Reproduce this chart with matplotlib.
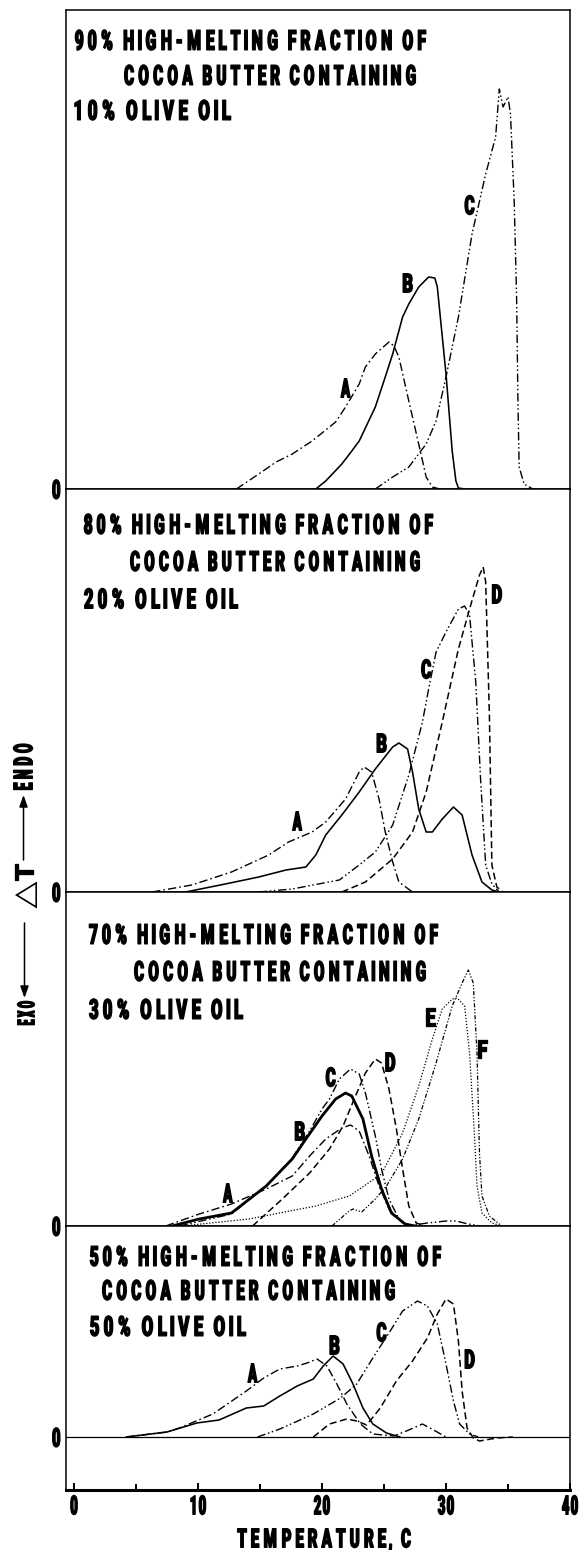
import numpy as np
import matplotlib
matplotlib.use('Agg')
import matplotlib.pyplot as plt
from matplotlib import font_manager
from matplotlib.font_manager import FontProperties
from matplotlib.textpath import TextPath, text_to_path
from matplotlib.patheffects import AbstractPathEffect
from matplotlib.transforms import Affine2D
from matplotlib.patches import FancyArrowPatch
from matplotlib.path import Path

# ------------------------------------------------------------------ data
temp_major = [0, 10, 20, 30, 40]
temp_minor = [5, 15, 25, 35]
temp_labels = ["0", "10", "20", "30", "40"]

title_90 = ["90% HIGH-MELTING FRACTION OF", "COCOA BUTTER CONTAINING", "10% OLIVE OIL"]
title_80 = ["80% HIGH-MELTING FRACTION OF", "COCOA BUTTER CONTAINING", "20% OLIVE OIL"]
title_70 = ["70% HIGH-MELTING FRACTION OF", "COCOA BUTTER CONTAINING", "30% OLIVE OIL"]
title_50 = ["50% HIGH-MELTING FRACTION OF", "COCOA BUTTER CONTAINING", "50% OLIVE OIL"]

# panel 1 : 90 % HMF / 10 % olive oil  (temperature C, delta T arbitrary units)
p1_A_t = [13.1, 14.9, 16.3, 17.6, 19.2, 21.1, 21.9, 23.0, 23.5, 24.3, 25.4, 25.8, 26.2, 27.0, 27.8, 28.4, 28.9, 29.5]
p1_A_h = [0, 15, 27, 35, 48, 67, 82, 105, 122, 135, 147, 143, 132, 88, 45, 12, 2, 0]
p1_B_t = [19.5, 20.3, 21.6, 22.4, 23.0, 24.3, 25.1, 25.7, 26.5, 27.0, 27.8, 28.6, 29.1, 29.3, 30.0, 30.5, 30.8, 31.0, 31.5]
p1_B_h = [0, 8, 25, 38, 48, 82, 112, 135, 172, 185, 202, 212, 211, 202, 115, 38, 8, 1, 0]
p1_C_t = [24.3, 25.7, 27.0, 28.4, 29.2, 30.0, 31.0, 32.1, 33.2, 34.0, 34.3, 34.6, 35.0, 35.2, 35.5, 35.7, 35.8, 35.9, 36.3, 37.0]
p1_C_h = [0, 12, 22, 45, 68, 112, 172, 255, 315, 352, 400, 382, 392, 375, 288, 188, 88, 22, 5, 0]

# panel 2 : 80 % HMF / 20 % olive oil
p2_A_t = [6.3, 9.5, 12.7, 15.7, 17.3, 19.2, 20.3, 21.9, 23.0, 23.4, 24.0, 24.6, 25.1, 25.7, 26.2, 27.3]
p2_A_h = [0, 7, 20, 37, 50, 60, 70, 93, 120, 125, 120, 93, 60, 30, 10, 0]
p2_B_t = [9.0, 12.2, 14.9, 17.1, 18.7, 19.5, 20.3, 21.6, 23.0, 24.3, 25.7, 26.2, 26.9, 27.3, 27.8, 28.4, 28.9, 29.7, 30.6, 31.3, 32.1, 32.9, 33.7, 34.3]
p2_B_h = [0, 8, 15, 22, 25, 37, 57, 77, 100, 123, 145, 149, 143, 120, 83, 60, 60, 73, 85, 77, 37, 10, 2, 0]
p2_C_t = [14.9, 17.6, 21.4, 23.0, 24.3, 25.7, 27.0, 28.1, 28.6, 29.2, 30.0, 31.0, 31.5, 31.9, 32.4, 32.8, 33.2, 33.7, 34.3]
p2_C_h = [0, 3, 12, 27, 40, 67, 117, 170, 203, 240, 260, 283, 286, 277, 210, 110, 27, 8, 0]
p2_D_t = [21.6, 23.5, 25.7, 27.3, 28.4, 29.7, 31.0, 31.9, 32.7, 33.0, 33.2, 33.5, 33.7, 34.1, 34.6]
p2_D_h = [0, 10, 33, 60, 100, 170, 243, 283, 317, 325, 310, 177, 27, 5, 0]

# panel 3 : 70 % HMF / 30 % olive oil
p3_A_t = [7.4, 10.1, 12.7, 15.5, 17.6, 19.0, 20.3, 21.6, 22.3, 23.0, 23.8, 24.6, 25.4, 26.5, 27.2]
p3_A_h = [0, 12, 22, 37, 50, 70, 87, 98, 101, 95, 70, 40, 17, 3, 0]
p3_B_t = [7.9, 10.1, 12.7, 15.5, 17.6, 18.7, 20.0, 21.1, 21.9, 22.4, 23.3, 24.0, 24.8, 25.6, 26.7, 27.5]
p3_B_h = [0, 7, 13, 40, 67, 87, 110, 127, 133, 130, 107, 70, 37, 13, 2, 0]
p3_C_t = [8.5, 12.7, 15.5, 17.6, 19.0, 20.0, 20.6, 21.4, 22.3, 23.0, 23.5, 24.3, 24.8, 25.4, 26.2, 26.9, 28.5, 30.0, 30.8, 31.8, 32.8]
p3_C_h = [0, 12, 40, 68, 95, 117, 127, 147, 157, 152, 133, 90, 57, 27, 7, 0, 3, 5, 5, 2, 0]
p3_D_t = [14.4, 16.8, 19.0, 20.6, 21.7, 22.7, 23.5, 24.3, 24.8, 25.4, 26.0, 26.5, 27.0, 27.6, 28.3]
p3_D_h = [0, 27, 53, 77, 100, 130, 153, 167, 163, 137, 97, 57, 20, 3, 0]
p3_E_t = [8.7, 14.1, 19.5, 22.2, 24.8, 26.5, 27.8, 28.9, 29.7, 30.5, 30.9, 31.5, 31.9, 32.3, 32.5, 32.9, 33.7, 34.5]
p3_E_h = [0, 7, 20, 30, 52, 93, 140, 187, 217, 227, 228, 220, 173, 90, 40, 13, 3, 0]
p3_F_t = [20.8, 22.2, 22.5, 23.2, 24.3, 25.2, 26.5, 27.8, 29.2, 30.5, 31.3, 31.8, 32.2, 32.5, 32.7, 32.9, 33.5, 34.5]
p3_F_h = [0, 15, 17, 14, 27, 40, 67, 107, 163, 220, 243, 256, 243, 173, 73, 30, 10, 0]

# panel 4 : 50 % HMF / 50 % olive oil
p4_A_t = [4.2, 7.5, 8.5, 11.2, 13.9, 15.3, 16.6, 18.0, 18.8, 19.6, 20.4, 21.2, 22.0, 23.1, 24.1, 25.8, 27.0, 28.1, 29.0, 30.0]
p4_A_h = [0, 5, 9, 23, 46, 59, 68, 71, 74, 78, 71, 53, 33, 13, 3, 1, 7, 13, 7, 0]
p4_B_t = [4.2, 7.5, 9.9, 11.7, 13.9, 15.3, 16.6, 18.0, 19.3, 20.1, 20.9, 21.7, 22.5, 23.3, 24.1, 25.2, 26.3]
p4_B_h = [0, 5, 14, 17, 29, 31, 41, 51, 58, 71, 81, 73, 53, 29, 13, 4, 0]
p4_C_t = [14.8, 16.6, 19.3, 21.5, 22.8, 24.1, 25.5, 26.5, 27.7, 28.5, 29.3, 30.0, 30.6, 31.1, 31.9, 32.6]
p4_C_h = [0, 8, 23, 39, 53, 79, 106, 126, 136, 131, 113, 73, 36, 13, 3, 0]
p4_D_t = [19.3, 20.6, 22.0, 22.8, 23.6, 24.7, 26.0, 27.3, 28.5, 29.3, 30.0, 30.6, 31.0, 31.3, 31.7, 32.2, 32.7, 34.1, 35.4]
p4_D_h = [0, 13, 18, 16, 12, 29, 56, 76, 99, 123, 138, 133, 96, 46, 9, -1, -4, -1, 0]

# ------------------------------------------------------------------ layout / style
W, H, DPI = 584, 1550, 100
plt.rcParams['lines.scale_dashes'] = False
plt.rcParams['lines.solid_joinstyle'] = 'round'
plt.rcParams['lines.dash_joinstyle'] = 'round'


def pick_font():
    want = ['Roboto Condensed', 'Roboto', 'Lato', 'Noto Sans', 'Open Sans', 'Inter',
            'Liberation Sans', 'DejaVu Sans']
    best = {}
    for f in font_manager.fontManager.ttflist:
        if f.style != 'normal':
            continue
        w = f.weight
        if not isinstance(w, (int, float)):
            w = font_manager.weight_dict.get(str(w).lower(), 400)
        best[f.name] = max(best.get(f.name, 0), w)
    for thr in (850, 750, 700):
        for fam in want:
            if best.get(fam, 0) >= thr:
                return fam, best[fam]
    return 'DejaVu Sans', 700


FONT, WEIGHT = pick_font()
FP = FontProperties(family=FONT, weight=WEIGHT)
FP_THIN = FontProperties(family='DejaVu Sans', weight='normal')
UNITS = text_to_path.FONT_SCALE
STROKE_PT = 0.95


class Condense(AbstractPathEffect):
    """Narrow every glyph about its own centre, stretch it vertically and
    embolden it, imitating a heavy condensed gothic type."""
    def __init__(self, sx, sy, cy, stroke=0.0):
        super().__init__()
        self.sx = sx
        self.sy = sy
        self.cy = cy
        self.stroke = stroke

    def draw_path(self, renderer, gc, tpath, affine, rgbFace=None):
        verts = np.array(tpath.vertices, dtype=float)
        codes = tpath.codes
        if codes is not None and self.sx != 1.0 and len(verts):
            codes = np.asarray(codes)
            starts = np.where(codes == Path.MOVETO)[0]
            if len(starts):
                segs = np.split(np.arange(len(codes)), starts[1:])
                boxes = []
                for s in segs:
                    m = codes[s] != Path.CLOSEPOLY
                    xs = verts[s[m], 0] if m.any() else verts[s, 0]
                    boxes.append((xs.min(), xs.max()))
                order = sorted(range(len(segs)), key=lambda k: boxes[k][0])
                groups, cur, cmax = [], [], -np.inf
                for k in order:
                    if cur and boxes[k][0] < cmax - 0.5:
                        cur.append(k)
                        cmax = max(cmax, boxes[k][1])
                    else:
                        if cur:
                            groups.append(cur)
                        cur, cmax = [k], boxes[k][1]
                if cur:
                    groups.append(cur)
                for g in groups:
                    ind = np.concatenate([segs[k] for k in g])
                    cx = 0.5 * (min(boxes[k][0] for k in g) + max(boxes[k][1] for k in g))
                    verts[ind, 0] = cx + (verts[ind, 0] - cx) * self.sx
            tpath = Path(verts, codes)
        tr = Affine2D().translate(0, -self.cy).scale(1.0, self.sy).translate(0, self.cy) + affine
        if self.stroke > 0 and rgbFace is not None:
            gc0 = renderer.new_gc()
            gc0.copy_properties(gc)
            gc0.set_linewidth(self.stroke)
            gc0.set_foreground(rgbFace)
            gc0.set_joinstyle('round')
            renderer.draw_path(gc0, tpath, tr, rgbFace)
            gc0.restore()
        else:
            renderer.draw_path(gc, tpath, tr, rgbFace)


def fit(s, width_px, cap_px, fp=FP, ref='H', sx=1.0, stroke=STROKE_PT):
    spx = stroke * DPI / 72.0
    width_px = width_px - spx
    cap_px = cap_px - spx
    ext = TextPath((0, 0), s, size=1, prop=fp).get_extents()
    rext = TextPath((0, 0), ref, size=1, prop=fp).get_extents()
    fs = width_px * 72.0 / (DPI * ext.width)
    cap_un = rext.height * fs * DPI / 72.0
    cy = (rext.y0 + rext.height / 2.0) * UNITS
    eff = Condense(sx, cap_px / cap_un, cy, stroke)
    lsb = ext.x0 * fs * DPI / 72.0 - spx / 2.0
    p = fp.copy()
    p.set_size(fs)
    base_off = (rext.y0 * fs * DPI / 72.0) + cap_un / 2.0
    return p, eff, base_off, lsb


fig = plt.figure(figsize=(W / DPI, H / DPI), dpi=DPI)
fig.patch.set_facecolor('white')

SX_TEXT = 0.70


def ftext(s, x_px, yc_px, width_px, cap_px, ha='left', sx=SX_TEXT):
    p, eff, off, lsb = fit(s, width_px, cap_px, sx=sx)
    x = x_px - lsb if ha == 'left' else x_px
    t = fig.text(x / W, 1 - (yc_px + off) / H, s, fontproperties=p, ha=ha, va='baseline', color='black')
    t.set_path_effects([eff])
    return t


def rtext(s, xc_px, yc_px, width_px, cap_px, fp=FP, ref='H', sx=SX_TEXT, stroke=STROKE_PT):
    p, eff, off, lsb = fit(s, width_px, cap_px, fp=fp, ref=ref, sx=sx, stroke=stroke)
    t = fig.text((xc_px + off) / W, 1 - yc_px / H, s, fontproperties=p, rotation=90,
                 rotation_mode='anchor', ha='center', va='baseline', color='black')
    t.set_path_effects([eff])
    return t


X0_PX, PX_PER_C = 74.0, 12.4
LEFT_PX, RIGHT_PX, TOP_PX, BOT_PX = 66.0, 570.0, 10.0, 1490.0
ylims = [(0, 479), (0, 403), (0, 334), (-53, 211)]
heights = [b - a for a, b in ylims]
gs = fig.add_gridspec(4, 1, left=LEFT_PX / W, right=RIGHT_PX / W, top=1 - TOP_PX / H,
                      bottom=1 - BOT_PX / H, hspace=0, height_ratios=heights)
xlim = ((LEFT_PX - X0_PX) / PX_PER_C, (RIGHT_PX - X0_PX) / PX_PER_C)

STY = {
    'A': dict(ls=(0, (6, 2.2, 1.2, 2.2)), lw=1.0),
    'B': dict(ls='-', lw=1.15),
    'C': dict(ls=(0, (6, 2.0, 1.1, 1.8, 1.1, 2.0)), lw=1.0),
    'D': dict(ls=(0, (5, 2.6)), lw=1.1),
    'E': dict(ls=(0, (0.9, 1.3)), lw=0.9),
    'F': dict(ls=(0, (3, 1.3, 0.9, 1.3, 0.9, 1.3)), lw=0.9),
}

panels = [
    dict(title=title_90,
         curves=[('A', p1_A_t, p1_A_h), ('B', p1_B_t, p1_B_h), ('C', p1_C_t, p1_C_h)],
         labels={'A': (21.9, 101), 'B': (26.9, 206), 'C': (31.9, 284)},
         tpos=[(73, 40, 355), (122, 75, 296), (73, 110, 160)]),
    dict(title=title_80,
         curves=[('A', p2_A_t, p2_A_h), ('B', p2_B_t, p2_B_h), ('C', p2_C_t, p2_C_h), ('D', p2_D_t, p2_D_h)],
         labels={'A': (18.0, 71), 'B': (24.8, 149), 'C': (28.4, 223), 'D': (34.1, 298)},
         tpos=[(82, 524, 353), (128, 561, 294), (82, 598.5, 158)]),
    dict(title=title_70,
         curves=[('A', p3_A_t, p3_A_h), ('B', p3_B_t, p3_B_h), ('C', p3_C_t, p3_C_h),
                 ('D', p3_D_t, p3_D_h), ('E', p3_E_t, p3_E_h), ('F', p3_F_t, p3_F_h)],
         labels={'A': (12.4, 33), 'B': (18.2, 95), 'C': (20.7, 149), 'D': (25.5, 164),
                 'E': (28.7, 209), 'F': (32.9, 177)},
         tpos=[(87, 934, 353), (132, 971, 296), (87, 1009, 158)]),
    dict(title=title_50,
         curves=[('A', p4_A_t, p4_A_h), ('B', p4_B_t, p4_B_h), ('C', p4_C_t, p4_C_h), ('D', p4_D_t, p4_D_h)],
         labels={'A': (14.4, 64), 'B': (21.0, 92), 'C': (24.8, 105), 'D': (31.9, 78)},
         tpos=[(88, 1256, 355), (100, 1290, 297), (88, 1326, 160)]),
]

zero_p, zero_eff, _, _ = fit('0', 8.5, 20, sx=1.0)
lab_cap = 20
axes = []
for i, pan in enumerate(panels):
    ax = fig.add_subplot(gs[i])
    axes.append(ax)
    ax.set_xlim(*xlim)
    ax.set_ylim(*ylims[i])
    for key, t, h in pan['curves']:
        st = dict(STY[key])
        if i == 2 and key == 'B':
            st['lw'] = 2.0
        ax.plot(t, h, color='black', linestyle=st['ls'], linewidth=st['lw'],
                solid_capstyle='round', dash_capstyle='butt')
    if i == 3:
        ax.axhline(0, color='black', lw=0.9)
    for sp in ax.spines.values():
        sp.set_linewidth(1.1)
        sp.set_color('black')
    ax.set_yticks([0])
    ax.set_yticklabels(['0'])
    ax.tick_params(axis='y', length=0, pad=4.0)
    for tl in ax.get_yticklabels():
        tl.set_fontproperties(zero_p)
        tl.set_path_effects([zero_eff])
    # curve letters
    for key, (tx, hy) in pan['labels'].items():
        p, eff, off, _ = fit(key, 10.5, lab_cap, sx=1.0)
        tt = ax.text(tx, hy - off, key, fontproperties=p, ha='center', va='baseline', color='black')
        tt.set_path_effects([eff])
    # titles
    for line, (xp, yp, wp) in zip(pan['title'], pan['tpos']):
        ftext(line, xp, yp, wp, 21)
    if i < 3:
        ax.tick_params(axis='x', which='both', bottom=False, labelbottom=False)
    else:
        ax.spines['bottom'].set_linewidth(2.2)
        ax.set_xticks(temp_major)
        ax.set_xticks(temp_minor, minor=True)
        tick_p, tick_eff, _, _ = fit('10', 17, 20, sx=0.85)
        r = fig.canvas.get_renderer()
        _, lp_h, lp_d = r.get_text_width_height_descent('lp', tick_p, ismath=False)
        capun = TextPath((0, 0), 'H', size=1, prop=tick_p).get_extents().height * tick_p.get_size() * DPI / 72.0
        pad_px = 15.0 - ((lp_h - lp_d) - capun / 2.0)
        ax.set_xticklabels(temp_labels)
        ax.tick_params(axis='x', which='major', direction='in', length=5, width=1.4,
                       pad=pad_px * 72.0 / DPI)
        ax.tick_params(axis='x', which='minor', direction='in', length=4, width=1.4)
        for tl in ax.get_xticklabels():
            tl.set_fontproperties(tick_p)
            tl.set_path_effects([tick_eff])

# x-axis title
ftext("TEMPERATURE, C", 324, 1538, 178, 20, ha='center')

# y-axis title: EXO <---  delta T  ---> ENDO
rtext("ENDO", 23, 767, 50, 20)
rtext("T", 24, 872, 17, 20, sx=1.0)
rtext("\u25B3", 26, 895, 27, 22, fp=FP_THIN, ref="\u25B3", sx=1.0, stroke=0.0)
rtext("EXO", 26, 1013, 27, 18)
for (x, y1, y2) in [(23.5, 860, 795), (24.5, 923, 998)]:
    fig.add_artist(FancyArrowPatch((x / W, 1 - y1 / H), (x / W, 1 - y2 / H), transform=fig.transFigure,
                                   arrowstyle='-|>,head_length=0.7,head_width=0.25', mutation_scale=10,
                                   lw=1.1, color='black', shrinkA=0, shrinkB=0))

fig.savefig('out.png', dpi=DPI, facecolor='white')
